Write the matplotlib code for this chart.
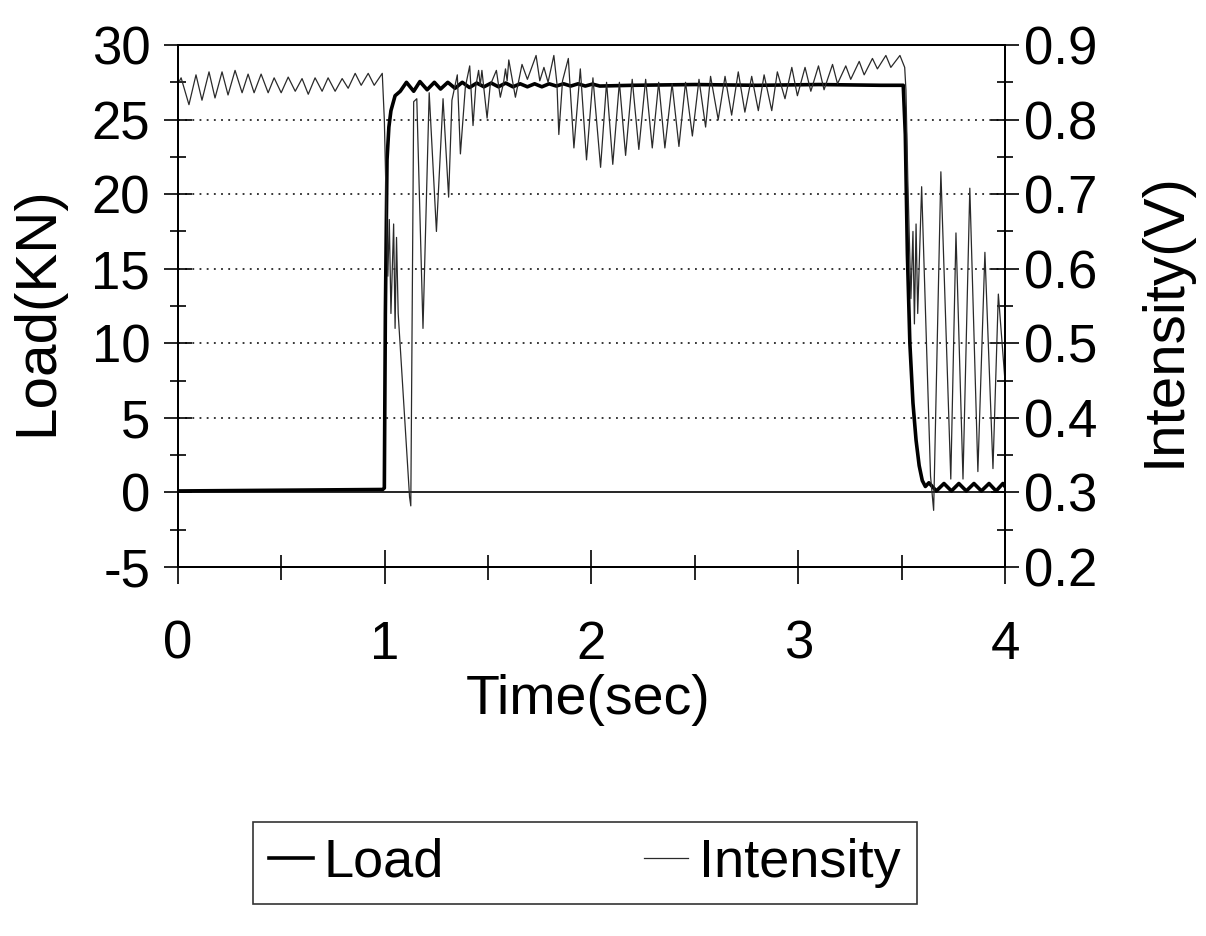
import numpy as np
import matplotlib.pyplot as plt
from matplotlib.lines import Line2D
from matplotlib.ticker import MultipleLocator

plt.rcParams['font.family'] = ['Liberation Sans', 'DejaVu Sans']
plt.rcParams['axes.unicode_minus'] = False

# Load (KN) vs time (sec)
load_t = [0.0, 0.5, 0.99, 0.998, 1.003, 1.011, 1.02, 1.03, 1.05,
          1.075, 1.105, 1.14, 1.17, 1.205, 1.24, 1.27, 1.305, 1.34, 1.375,
          1.41, 1.445, 1.48, 1.515, 1.55, 1.585, 1.62, 1.655, 1.69, 1.725,
          1.76, 1.795, 1.83, 1.865, 1.90, 1.935, 1.97, 2.005, 2.04,
          2.2, 2.5, 2.8, 3.1, 3.4, 3.508,
          3.518, 3.528, 3.54, 3.555, 3.57, 3.585, 3.6, 3.615,
          3.632, 3.668, 3.705, 3.741, 3.777, 3.813, 3.85, 3.886, 3.923, 3.957, 3.99, 4.0]
load_kn = [0.1, 0.15, 0.2, 0.3, 12.0, 22.3, 24.5, 25.6, 26.6,
           26.9, 27.5, 26.9, 27.55, 27.0, 27.5, 27.05, 27.5, 27.1, 27.5,
           27.15, 27.45, 27.2, 27.45, 27.2, 27.45, 27.2, 27.4, 27.2, 27.4,
           27.2, 27.4, 27.25, 27.4, 27.25, 27.4, 27.25, 27.38, 27.25,
           27.3, 27.35, 27.3, 27.35, 27.3, 27.3,
           24.0, 16.0, 10.0, 6.0, 3.5, 1.8, 0.8, 0.4,
           0.65, 0.1, 0.6, 0.1, 0.6, 0.1, 0.6, 0.1, 0.6, 0.1, 0.6, 0.4]

# Intensity (V): before loading
pre_t = [0.0, 0.015, 0.053, 0.087, 0.116, 0.150, 0.179, 0.213, 0.242, 0.276,
         0.310, 0.339, 0.368, 0.402, 0.436, 0.465, 0.499, 0.533, 0.567, 0.600,
         0.630, 0.663, 0.697, 0.726, 0.760, 0.794, 0.823, 0.857, 0.886, 0.920,
         0.949, 0.988]
pre_v = [0.848, 0.856, 0.820, 0.860, 0.826, 0.864, 0.829, 0.864, 0.833, 0.866,
         0.836, 0.861, 0.836, 0.861, 0.836, 0.856, 0.836, 0.857, 0.838, 0.855,
         0.834, 0.856, 0.838, 0.856, 0.838, 0.855, 0.842, 0.862, 0.846, 0.862,
         0.846, 0.862]

# Intensity (V): loading and early hold
rise_t = [0.998, 1.006, 1.015, 1.022, 1.03, 1.043, 1.05, 1.057, 1.065,
          1.12, 1.126, 1.14, 1.155, 1.185, 1.215, 1.25, 1.282, 1.309, 1.325,
          1.351, 1.366, 1.39, 1.411, 1.427, 1.44, 1.454, 1.462, 1.47, 1.495,
          1.51, 1.54, 1.559, 1.575, 1.584, 1.592, 1.60, 1.632, 1.664, 1.69,
          1.732, 1.75, 1.77, 1.79, 1.818, 1.833]
rise_v = [0.80, 0.70, 0.59, 0.666, 0.54, 0.66, 0.52, 0.642, 0.54,
          0.294, 0.282, 0.824, 0.828, 0.52, 0.836, 0.65, 0.828, 0.696, 0.826,
          0.86, 0.754, 0.844, 0.872, 0.792, 0.844, 0.866, 0.846, 0.866, 0.802,
          0.846, 0.866, 0.83, 0.85, 0.868, 0.852, 0.88, 0.83, 0.874, 0.854,
          0.886, 0.852, 0.87, 0.85, 0.886, 0.848]

# Intensity (V): hold
hold_t = [1.842, 1.86, 1.888, 1.915, 1.946, 1.976, 2.007, 2.044, 2.073, 2.103,
          2.135, 2.165, 2.197, 2.229, 2.262, 2.294, 2.325, 2.355, 2.39, 2.423,
          2.455, 2.488, 2.52, 2.552, 2.576, 2.613, 2.646, 2.678, 2.71, 2.742,
          2.775, 2.807, 2.835, 2.872, 2.899, 2.936, 2.969, 2.996, 3.033, 3.061,
          3.098, 3.125, 3.166, 3.19, 3.23, 3.254, 3.295, 3.319, 3.359, 3.383,
          3.424, 3.448, 3.492, 3.515]
hold_v = [0.78, 0.852, 0.882, 0.762, 0.868, 0.746, 0.856, 0.736, 0.85, 0.74,
          0.85, 0.752, 0.854, 0.76, 0.854, 0.762, 0.85, 0.762, 0.848, 0.764,
          0.85, 0.778, 0.854, 0.79, 0.858, 0.80, 0.858, 0.806, 0.864, 0.81,
          0.858, 0.812, 0.86, 0.812, 0.864, 0.828, 0.87, 0.832, 0.87, 0.838,
          0.872, 0.84, 0.874, 0.848, 0.872, 0.854, 0.878, 0.86, 0.882, 0.868,
          0.886, 0.87, 0.886, 0.87]

# Intensity (V): unloading
drop_t = [3.521, 3.53, 3.545, 3.555, 3.562, 3.57, 3.578, 3.597, 3.64, 3.655,
          3.69, 3.738, 3.763, 3.797, 3.83, 3.869, 3.903, 3.942, 3.968, 4.0]
drop_v = [0.84, 0.72, 0.56, 0.65, 0.526, 0.66, 0.54, 0.71, 0.322, 0.276,
          0.73, 0.318, 0.648, 0.318, 0.708, 0.328, 0.622, 0.332, 0.566, 0.45]

int_t = pre_t + rise_t + hold_t + drop_t
int_v = pre_v + rise_v + hold_v + drop_v

fig = plt.figure(figsize=(12.06, 9.36), dpi=100)
ax = fig.add_axes([0.1476, 0.3942, 0.6857, 0.5577])
ax2 = ax.twinx()

ax.plot(load_t, load_kn, color='black', lw=2.6, zorder=3)
ax2.plot(int_t, int_v, color='#2a2a2a', lw=0.9)

ax.set_xlim(0, 4)
ax.set_ylim(-5, 30)
ax2.set_ylim(0.2, 0.9)

ax.set_xticks(range(0, 5))
ax.xaxis.set_minor_locator(MultipleLocator(0.5))
ax.set_yticks(range(-5, 31, 5))
ax.yaxis.set_minor_locator(MultipleLocator(2.5))
ax2.set_yticks(np.arange(0.2, 0.91, 0.1))
ax2.set_yticklabels(['0.2', '0.3', '0.4', '0.5', '0.6', '0.7', '0.8', '0.9'])
ax2.yaxis.set_minor_locator(MultipleLocator(0.05))

fs = 38
ax.tick_params(axis='x', which='major', direction='inout', length=24, width=1.2,
               labelsize=fs, pad=26, top=False)
ax.tick_params(axis='x', which='minor', direction='inout', length=18, width=1.2, top=False)
ax.tick_params(axis='y', which='major', direction='inout', length=20, width=1.2,
               labelsize=fs, pad=10, right=False)
ax.tick_params(axis='y', which='minor', direction='inout', length=12, width=1.2, right=False)
ax2.tick_params(axis='y', which='major', direction='inout', length=20, width=1.2,
                labelsize=fs, pad=4)
ax2.tick_params(axis='y', which='minor', direction='inout', length=12, width=1.2)

for a in (ax, ax2):
    for s in a.spines.values():
        s.set_linewidth(1.4)

# dotted grid and the zero line
for yv in [5, 10, 15, 20, 25]:
    ax.axhline(yv, color='black', lw=1.1, linestyle=(0, (1.2, 3.5)), zorder=1)
ax.axhline(0, color='black', lw=1.2, zorder=1)

ax.set_xlabel('Time(sec)', fontsize=40)
ax.xaxis.set_label_coords(0.496, -0.205)
ax.set_ylabel('Load(KN)', fontsize=42)
ax.yaxis.set_label_coords(-0.137, 0.49)
ax2.set_ylabel('Intensity(V)', fontsize=42)
ax2.yaxis.set_label_coords(1.16, 0.475)

handles = [Line2D([], [], color='black', lw=2.6),
           Line2D([], [], color='#2a2a2a', lw=0.9)]
leg = fig.legend(handles, ['Load', 'Intensity'], loc='center',
                 bbox_to_anchor=(0.485, 0.078), ncol=2, fontsize=39,
                 frameon=True, fancybox=False, edgecolor='black',
                 handlelength=0.8, handletextpad=0.2, columnspacing=3.7,
                 borderpad=0.3, borderaxespad=0)
leg.get_frame().set_linewidth(1.2)

fig.savefig('out.png', dpi=100)
